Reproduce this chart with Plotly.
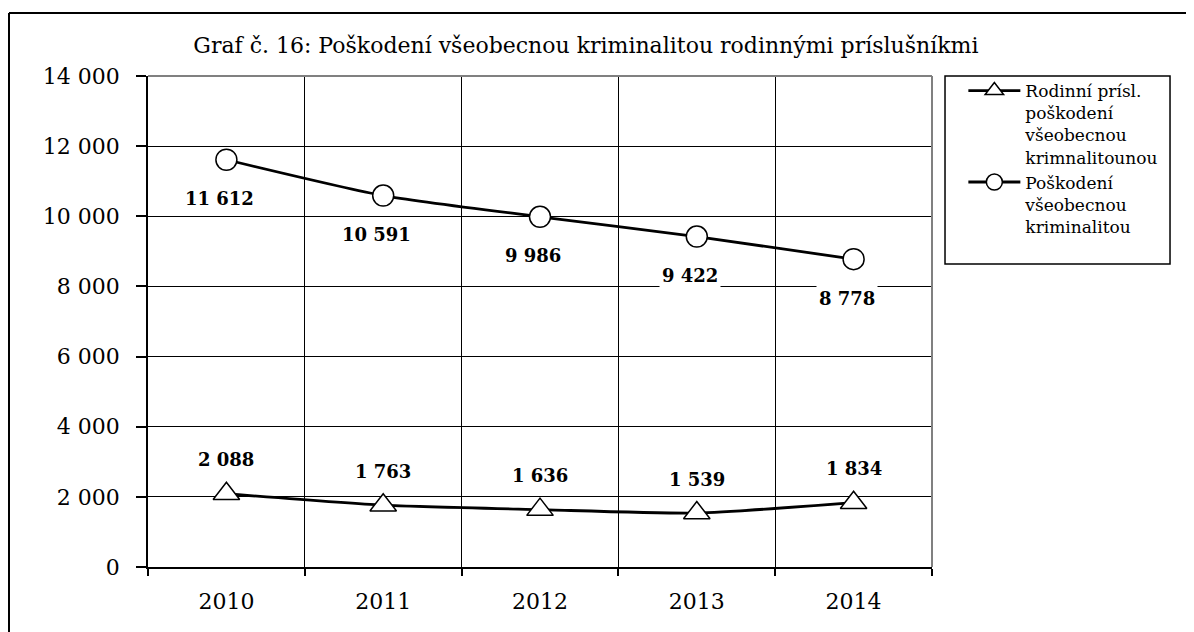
import plotly.graph_objects as go

years = ["2010", "2011", "2012", "2013", "2014"]
family = [2088, 1763, 1636, 1539, 1834]
total = [11612, 10591, 9986, 9422, 8778]
y_ticks = [0, 2000, 4000, 6000, 8000, 10000, 12000, 14000]

name_family = "Rodinní prísl.<br>poškodení<br>všeobecnou<br>krimnalitounou"
name_total = "Poškodení<br>všeobecnou<br>kriminalitou"
title = "Graf č. 16: Poškodení všeobecnou kriminalitou rodinnými príslušníkmi"

def fmt(v):
    return f"{v:,}".replace(",", " ")

FONT = "DejaVu Serif"

fig = go.Figure()
fig.add_trace(go.Scatter(
    x=years, y=family, name=name_family, mode="lines+markers",
    line=dict(color="black", width=2.8, shape="spline", smoothing=0.6),
    marker=dict(symbol="triangle-up", size=23, color="white",
                line=dict(color="black", width=1.5)),
))
fig.add_trace(go.Scatter(
    x=years, y=total, name=name_total, mode="lines+markers",
    line=dict(color="black", width=2.8, shape="spline", smoothing=0.6),
    marker=dict(symbol="circle", size=21, color="white",
                line=dict(color="black", width=1.5)),
))

label_font = dict(family=FONT, size=18, color="black")
ann = []
for i, v in enumerate(family):
    ann.append(dict(x=i, y=v, xref="x", yref="y", text="<b>" + fmt(v) + "</b>",
                    showarrow=False, yshift=34, font=label_font,
                    bgcolor="white", borderpad=1))
for i, v in enumerate(total):
    ann.append(dict(x=i, y=v, xref="x", yref="y", text="<b>" + fmt(v) + "</b>",
                    showarrow=False, yshift=-39, xshift=-7, font=label_font,
                    bgcolor="white", borderpad=2))

shapes = [
    dict(type="line", xref="paper", yref="paper", x0=1, x1=1, y0=0, y1=1,
         line=dict(color="#808080", width=2), layer="above"),
    dict(type="line", xref="paper", yref="paper", x0=0, x1=1, y0=1, y1=1,
         line=dict(color="#808080", width=2), layer="above"),
    # legend box
    dict(type="rect", xref="paper", yref="paper", x0=1.0166, x1=1.3036, y0=0.617, y1=1.0,
         line=dict(color="black", width=1.5), fillcolor="rgba(0,0,0,0)"),
    # outer frame: top and left edges (others lie outside the picture)
    dict(type="line", xref="paper", yref="paper", x0=-0.1773, x1=1.45, y0=1.1283, y1=1.1283,
         line=dict(color="black", width=2)),
    dict(type="line", xref="paper", yref="paper", x0=-0.1773, x1=-0.1773, y0=-0.25, y1=1.1283,
         line=dict(color="black", width=2)),
]

fig.update_layout(
    width=1194, height=632,
    margin=dict(l=140, r=270, t=68, b=73),
    paper_bgcolor="white", plot_bgcolor="white",
    font=dict(family=FONT, size=22, color="black"),
    title=dict(text=title, xref="container", yref="container", x=0.484, y=0.9415,
               xanchor="center", yanchor="middle", font=dict(family=FONT, size=22)),
    showlegend=True,
    legend=dict(x=1.04, y=1.006, xanchor="left", yanchor="top", valign="top",
                font=dict(family=FONT, size=17), bgcolor="rgba(0,0,0,0)",
                itemwidth=52, tracegroupgap=0),
    annotations=ann,
    shapes=shapes,
)
fig.update_xaxes(type="category", tickson="boundaries", showgrid=True, gridcolor="black",
                 gridwidth=1, showline=True, linecolor="black", linewidth=1.5,
                 ticks="outside", ticklen=7, tickcolor="black", tickwidth=1.5,
                 ticklabelstandoff=14, range=[-0.5, 4.5], tickfont=dict(size=22))
fig.update_yaxes(range=[0, 14000], tickvals=y_ticks, ticktext=[fmt(v) for v in y_ticks],
                 showgrid=True, gridcolor="black", gridwidth=1, showline=True,
                 linecolor="black", linewidth=1.5, ticks="outside", ticklen=10,
                 tickcolor="black", tickwidth=1.5, ticklabelstandoff=12, zeroline=False,
                 tickfont=dict(size=22))

fig.write_html("out.html")
